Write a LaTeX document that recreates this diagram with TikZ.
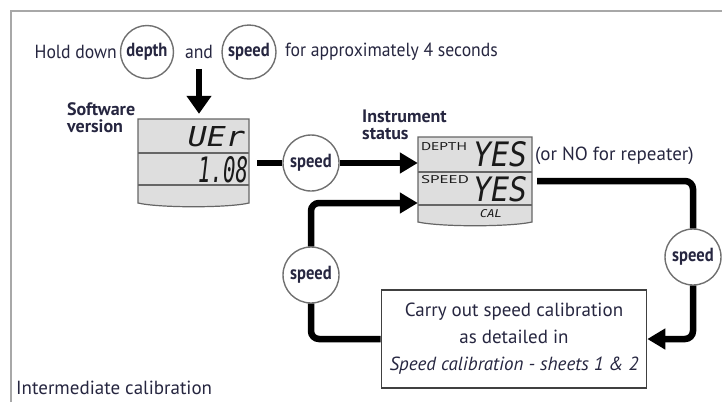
\documentclass[tikz,border=0pt]{standalone}
\usepackage{fontspec}
\usepackage{graphicx}
\setmainfont{PT Sans}
\newfontfamily\condfont{PT Sans}[FakeStretch=0.93]
\newfontfamily\keyfont{PT Sans}[FakeStretch=0.87]
\newfontfamily\lcdfont{DejaVu Sans Mono}
\usetikzlibrary{arrows.meta}
\definecolor{ink}{HTML}{262640}
\definecolor{framegray}{HTML}{A8A8A8}
\definecolor{keygray}{HTML}{707070}
\definecolor{lcdfill}{HTML}{DEDEDE}
\definecolor{lcdline}{HTML}{666666}
\definecolor{lcdink}{HTML}{1A1A1A}
\begin{document}
\begin{tikzpicture}[x=1pt,y=-1pt,
  txt/.style={inner sep=0pt, text=ink, font=\fontsize{19}{22}\selectfont},
  ctxt/.style={inner sep=0pt, text=ink, font=\condfont\fontsize{19}{22}\selectfont},
  lbl/.style={inner sep=0pt, text=ink, align=left, font=\fontsize{18}{17}\selectfont\bfseries},
  key/.style={circle, draw=keygray, line width=1.4pt, fill=white, minimum size=56pt, inner sep=0pt, text=ink, font=\keyfont\fontsize{19}{20}\selectfont\bfseries},
  conn/.style={line width=6.5pt, draw=black, rounded corners=8pt},
  arr/.style={conn, -{Triangle[length=18pt,width=20pt]}},
  lcdshape/.style={fill=lcdfill, draw=lcdline, line width=1.2pt},
  lcddiv/.style={draw=lcdline, line width=1.2pt},
  lcdholder/.style={inner sep=0pt, draw=none},
  seg/.style={inner sep=0pt, text=lcdink},
  tiny/.style={inner sep=0pt, text=lcdink, font=\fontsize{12}{12}\selectfont}]
\useasboundingbox (0,0) rectangle (722,402);
% frame
\draw[framegray, line width=2.5pt] (11,402) -- (11,11) -- (722,11);

% header
\node[ctxt, anchor=east] (hold) at (117,52) {Hold down};
\node[key, minimum size=53pt] (kdepth) at (147,52) {depth};
\node[ctxt] (and) at (199,52) {and};
\node[key, minimum size=54pt] (kspeed) at (249,52) {speed};
\node[ctxt, anchor=west] (forx) at (285,52) {for approximately 4 seconds};

% LCD 1
\path[lcdshape] (138,119) -- (249,119) -- (249,203) .. controls (228,208) and (159,208) .. (138,203) -- cycle;
\draw[lcddiv] (138,153) -- (249,153) (138,185) -- (249,185);
\node[lcdholder, minimum width=111pt, minimum height=88pt] (lcd1) at (193.5,163) {};
\node[seg] (uer) at (216.5,137) {\resizebox{57pt}{20pt}{\lcdfont\itshape UEr}};
\node[seg] (ver) at (223,170) {\resizebox{50pt}{26pt}{\lcdfont\itshape 1.08}};
\node[lbl, anchor=north west] (swv) at (67,102) {Software\\version};

% LCD 2
\path[lcdshape] (418,137) -- (532,137) -- (532,222) .. controls (510,227) and (440,227) .. (418,222) -- cycle;
\draw[lcddiv] (418,172) -- (532,172) (418,205) -- (532,205);
\node[lcdholder, minimum width=114pt, minimum height=88pt] (lcd2) at (475,181) {};
\node[tiny] (dlab) at (444,147) {\resizebox{46pt}{8pt}{DEPTH}};
\node[seg] (dyes) at (500,154.5) {\resizebox{54pt}{25pt}{\lcdfont\itshape YES}};
\node[tiny] (slab) at (445,180) {\resizebox{48pt}{8pt}{SPEED}};
\node[seg] (syes) at (500,189.5) {\resizebox{54pt}{25pt}{\lcdfont\itshape YES}};
\node[seg] (cal) at (491,214) {\resizebox{22pt}{8pt}{\lcdfont\itshape CAL}};
\node[lbl, anchor=north west] (inst) at (362,110) {Instrument\\status};
\node[txt, anchor=west] (orno) at (535,156) {(or NO for repeater)};

% speed keys
\node[key] (ks1) at (311,163) {speed};
\node[key] (ks2) at (311,275) {speed};
\node[key] (ks3) at (693,257) {speed};

% calibration box
\node[draw=black!75, line width=1.6pt, minimum width=265pt, minimum height=98pt, align=center, inner sep=0pt, text=ink, font=\fontsize{19}{27}\selectfont] (cbox) at (514,339)
  {Carry out speed calibration\\as detailed in\\\textit{Speed calibration - sheets 1 \& 2}};

\node[txt, anchor=west] (inter) at (16,388) {Intermediate calibration};

% connectors
\draw[arr, -{Triangle[length=18pt,width=24pt]}, shorten >=5pt] ([yshift=-10pt]and.south) -- (and.south |- lcd1.north);
\draw[conn, shorten <=8pt] (lcd1.east |- ks1.west) -- (ks1.west);
\draw[arr] (ks1.east) -- (ks1.east -| lcd2.west);
\draw[arr] (ks2.north) |- ([yshift=-22pt]lcd2.west);
\draw[conn] (ks2.south) |- (cbox.west);
\draw[conn, shorten <=5pt] (lcd2.east) -| (ks3.north);
\draw[arr] (ks3.south) |- (cbox.east);
\end{tikzpicture}
\end{document}
